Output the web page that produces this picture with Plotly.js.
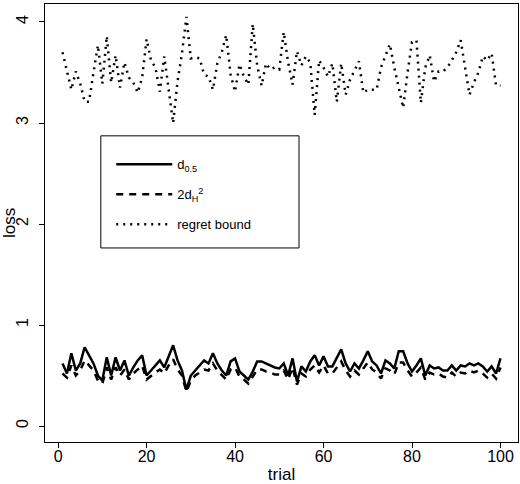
<!DOCTYPE html>
<html>
<head>
<meta charset="utf-8">
<script src="https://cdn.plot.ly/plotly-3.0.1.min.js"></script>
<style>
  html, body { margin: 0; padding: 0; background: #fff; }
  #chart { width: 520px; height: 484px; }
</style>
</head>
<body>
<div id="chart"></div>
<script>
const CHART = document.getElementById('chart');

// values, trial 1..100
const trials = Array.from({length: 100}, (_, i) => i + 1);

const d05 = [
  0.62, 0.52, 0.72, 0.55, 0.62, 0.78, 0.70, 0.62, 0.50, 0.45,
  0.68, 0.50, 0.68, 0.55, 0.65, 0.50, 0.58, 0.65, 0.70, 0.50,
  0.55, 0.60, 0.65, 0.58, 0.70, 0.80, 0.65, 0.55, 0.36, 0.50,
  0.55, 0.60, 0.65, 0.62, 0.72, 0.62, 0.55, 0.50, 0.64, 0.67,
  0.54, 0.50, 0.46, 0.54, 0.64, 0.64, 0.62, 0.60, 0.58, 0.57,
  0.62, 0.50, 0.67, 0.44, 0.59, 0.54, 0.64, 0.70, 0.60, 0.69,
  0.59, 0.59, 0.67, 0.76, 0.62, 0.54, 0.62, 0.57, 0.65, 0.74,
  0.64, 0.60, 0.52, 0.65, 0.62, 0.57, 0.74, 0.74, 0.62, 0.54,
  0.60, 0.67, 0.50, 0.60, 0.57, 0.58, 0.55, 0.55, 0.60, 0.55,
  0.60, 0.59, 0.62, 0.60, 0.62, 0.59, 0.54, 0.59, 0.52, 0.67
];

const dH2 = [
  0.52, 0.48, 0.60, 0.50, 0.55, 0.65, 0.60, 0.55, 0.45, 0.42,
  0.58, 0.46, 0.58, 0.50, 0.56, 0.46, 0.52, 0.56, 0.60, 0.46,
  0.50, 0.53, 0.56, 0.52, 0.60, 0.66, 0.56, 0.50, 0.34, 0.45,
  0.50, 0.53, 0.56, 0.55, 0.62, 0.55, 0.50, 0.46, 0.56, 0.58,
  0.49, 0.46, 0.42, 0.49, 0.56, 0.56, 0.54, 0.53, 0.51, 0.51,
  0.55, 0.46, 0.58, 0.41, 0.52, 0.49, 0.56, 0.60, 0.53, 0.60,
  0.52, 0.52, 0.58, 0.64, 0.55, 0.49, 0.55, 0.51, 0.57, 0.63,
  0.56, 0.53, 0.47, 0.57, 0.55, 0.51, 0.63, 0.63, 0.55, 0.49,
  0.53, 0.58, 0.46, 0.53, 0.51, 0.52, 0.49, 0.48, 0.53, 0.49,
  0.53, 0.52, 0.55, 0.53, 0.55, 0.52, 0.48, 0.52, 0.47, 0.58
];

const regret = [
  3.70, 3.52, 3.33, 3.51, 3.39, 3.21, 3.21, 3.50, 3.77, 3.39,
  3.86, 3.40, 3.67, 3.35, 3.60, 3.45, 3.40, 3.30, 3.45, 3.83,
  3.62, 3.55, 3.31, 3.66, 3.33, 3.00, 3.41, 3.69, 4.05, 3.64,
  3.65, 3.64, 3.48, 3.46, 3.33, 3.59, 3.70, 3.87, 3.48, 3.31,
  3.58, 3.46, 3.38, 3.98, 3.57, 3.37, 3.59, 3.53, 3.55, 3.53,
  3.90, 3.60, 3.38, 3.71, 3.57, 3.66, 3.60, 3.08, 3.62, 3.55,
  3.46, 3.59, 3.21, 3.59, 3.28, 3.43, 3.52, 3.61, 3.30, 3.33,
  3.33, 3.33, 3.55, 3.67, 3.78, 3.55, 3.35, 3.15, 3.50, 3.80,
  3.82, 3.20, 3.55, 3.67, 3.41, 3.51, 3.51, 3.55, 3.62, 3.70,
  3.82, 3.55, 3.28, 3.40, 3.50, 3.66, 3.62, 3.69, 3.37, 3.37
];

const xTicks = [0, 20, 40, 60, 80, 100];
const yTicks = [0, 1, 2, 3, 4];

const FONT = 'Liberation Sans, Arial, Helvetica, sans-serif';

function line(y, name, dash, group) {
    return {
        x: trials,
        y: y,
        name: name,
        legendgroup: group,
        type: 'scatter',
        mode: 'lines',
        line: {color: '#000', width: 2.5, dash: dash}
    };
}

const traces = [
    line(d05, 'd<sub>0.5</sub>', 'solid', 'a'),
    line(dH2, '2d<sub>H</sub><sup>2</sup>', '7px,6px', 'b'),
    line(regret, 'regret bound', '2px,5px', 'c')
];

const axisCommon = {
    showgrid: false,
    zeroline: false,
    showline: true,
    mirror: true,
    linecolor: '#000',
    linewidth: 1,
    ticks: 'outside',
    ticklen: 5,
    tickwidth: 1,
    tickcolor: '#000',
    tickfont: {family: FONT, size: 16, color: '#000'}
};

const layout = {
    width: 520,
    height: 484,
    paper_bgcolor: '#fff',
    plot_bgcolor: '#fff',
    margin: {l: 45, r: 2, t: 4, b: 42},
    font: {family: FONT, color: '#000'},
    xaxis: Object.assign({}, axisCommon, {
        range: [-2.96, 103.96],
        tickvals: xTicks,
        ticklabelstandoff: -5,
        title: {text: 'trial', font: {family: FONT, size: 17, color: '#000'}, standoff: 4}
    }),
    yaxis: Object.assign({}, axisCommon, {
        range: [-0.158, 4.178],
        tickvals: yTicks,
        tickangle: -90,
        ticklabelstandoff: 5,
        automargin: false,
        title: {text: 'loss', font: {family: FONT, size: 17, color: '#000'}, standoff: 4}
    }),
    showlegend: true,
    legend: {
        x: 0.14,
        y: 0.668,
        xanchor: 'left',
        yanchor: 'top',
        bgcolor: 'rgba(0,0,0,0)',
        borderwidth: 0,
        font: {family: FONT, size: 13, color: '#000'},
        tracegroupgap: 10,
        itemwidth: 56
    },
    shapes: [{
        type: 'rect',
        xref: 'paper', yref: 'paper',
        x0: 0.118, x1: 0.537, y0: 0.443, y1: 0.699,
        line: {color: '#000', width: 1},
        fillcolor: 'rgba(0,0,0,0)'
    }]
};

Plotly.newPlot(CHART, traces, layout, {staticPlot: true});
</script>
</body>
</html>
